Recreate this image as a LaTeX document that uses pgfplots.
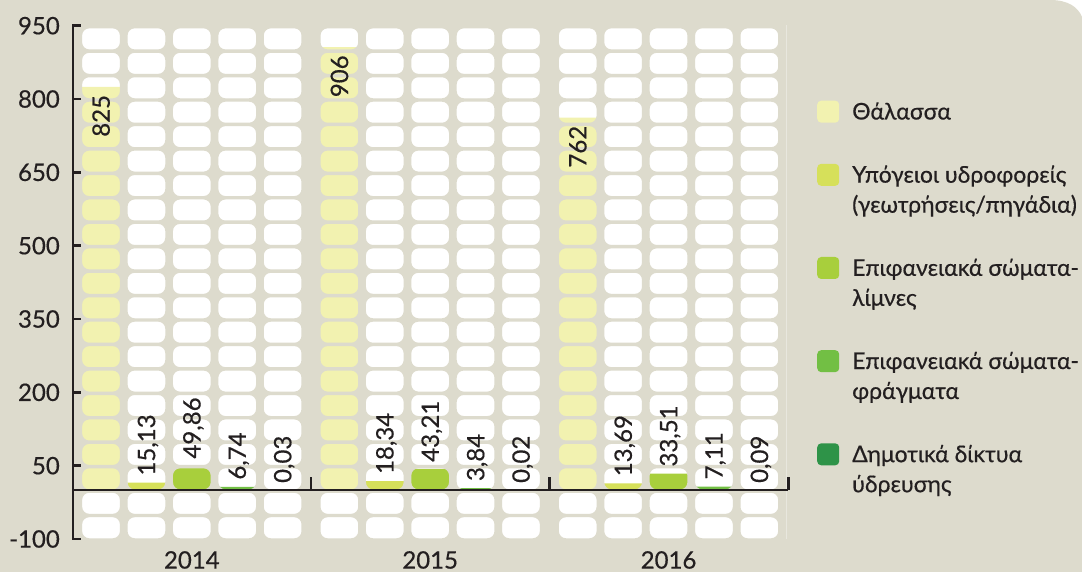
\documentclass[border=0pt]{standalone}
\usepackage{fontspec}
\setmainfont{Lato}[UprightFeatures={FakeBold=0.5}]
\usepackage{pgfplots}
\pgfplotsset{compat=1.18}
\usepackage{pgfplotstable}

\definecolor{bg}{RGB}{221,219,205}
\definecolor{ink}{RGB}{35,31,32}
\definecolor{seac}{RGB}{242,242,176}
\definecolor{groundc}{RGB}{214,224,90}
\definecolor{lakec}{RGB}{168,207,60}
\definecolor{damc}{RGB}{114,191,68}
\definecolor{cityc}{RGB}{46,147,72}
\newcommand{\lblfont}{\fontsize{24}{30}\selectfont}
\newcommand{\legfont}{\fontsize{23}{30}\selectfont}

% one small table per source: x position of the column, value, printed label
\pgfplotstableread{
x y lab
0 825 825
5.25 906 906
10.5 762 762
}\sea
\pgfplotstableread{
x y lab
1 15.13 15,13
6.25 18.34 18,34
11.5 13.69 13,69
}\ground
\pgfplotstableread{
x y lab
2 49.86 49,86
7.25 43.21 43,21
12.5 33.51 33,51
}\lakes
\pgfplotstableread{
x y lab
3 6.74 6,74
8.25 3.84 3,84
13.5 7.11 7,11
}\dams
\pgfplotstableread{
x y lab
4 0.03 0,03
9.25 0.02 0,02
14.5 0.09 0,09
}\city

\def\cols{0,1,2,3,4,5.25,6.25,7.25,8.25,9.25,10.5,11.5,12.5,13.5,14.5}

\pgfplotsset{
  % #1 colour, #2 lift of the legend square (two-line entries sit on their first line)
  pill/.style 2 args={ybar, bar width=0.9, bar shift=0pt, draw=none, fill=#1,
    legend image code/.code={
      \fill[opacity=0] (0pt,-#2-11pt) rectangle (1pt,-#2-10pt);
      \fill[#1, rounded corners=4pt] (0pt,#2-11pt) rectangle (22pt,#2+11pt);}},
  lbl/.style={forget plot, draw=none, mark=none, nodes near coords,
    point meta=explicit symbolic,
    nodes near coords style={rotate=90, font=\lblfont, text=ink, text depth=0pt, inner ysep=0pt}},
}

\begin{document}
\begin{tikzpicture}
\useasboundingbox (0pt,0pt) rectangle (1082pt,572pt);
\fill[bg] (0pt,0pt) -- (1082pt,0pt) -- (1082pt,555pt)
  .. controls (1078pt,565pt) and (1068pt,572pt) .. (1050pt,572pt) -- (0pt,572pt) -- cycle;
\begin{axis}[
  at={(73pt,33pt)}, anchor=south west, scale only axis,
  width=715.4pt, height=513.3pt,
  xmin=-0.617, xmax=15.14, ymin=-100, ymax=950,
  axis lines*=left, axis on top, clip=false,
  x axis line style={draw=none},
  y axis line style={line width=2.6pt, ink, line cap=rect},
  xtick={2,7.25,12.5}, xticklabels={2014,2015,2016},
  xtick style={draw=none},
  ytick={-100,50,200,350,500,650,800,950},
  yticklabels={-100,50,200,350,500,650,800,950},
  ytick style={line width=2.6pt, ink},
  tick align=inside, major tick length=8pt,
  tick label style={font=\lblfont, text=ink},
  yticklabel style={anchor=east, inner sep=0pt, xshift=-13pt},
  xticklabel style={anchor=north, inner sep=0pt, yshift=-12pt},
  legend style={at={(1.04,0.855)}, anchor=north west, draw=none, fill=none,
    font=\legfont, text=ink, row sep=40.5pt, inner sep=0pt,
    cells={anchor=west, align=left},
    /tikz/every odd column/.append style={column sep=11pt}},
]
% white under the pill grid
\fill[white] (axis cs:-0.55,-101) rectangle (axis cs:15.1,951);

\addplot[pill={seac}{0pt}] table[x=x, y=y] {\sea};
\addplot[pill={groundc}{15pt}] table[x=x, y=y] {\ground};
\addplot[pill={lakec}{15pt}] table[x=x, y=y] {\lakes};
\addplot[pill={damc}{15pt}] table[x=x, y=y] {\dams};
\addplot[pill={cityc}{15pt}] table[x=x, y=y] {\city};

% beige mask that leaves only the rounded pills open
\pgfplotsextra{
  \fill[bg, even odd rule] (axis cs:-0.55,-101) rectangle (axis cs:15.1,951)
    \foreach \cx [evaluate=\cx as \xl using \cx-0.415, evaluate=\cx as \xr using \cx+0.415] in \cols {
      \foreach \k [evaluate=\k as \yb using 50*\k+1.5, evaluate=\k as \yt using 50*\k+44.5] in {-2,...,18} {
        [rounded corners=7pt] (axis cs:\xl,\yb) rectangle (axis cs:\xr,\yt)
      }
    };
}

\addplot[lbl, nodes near coords style={anchor=east, inner xsep=8pt}] table[x=x, y=y, meta=lab] {\sea};
\addplot[lbl, nodes near coords style={anchor=west, inner xsep=7pt}] table[x=x, y=y, meta=lab] {\ground};
\addplot[lbl, nodes near coords style={anchor=west, inner xsep=7pt}] table[x=x, y=y, meta=lab] {\lakes};
\addplot[lbl, nodes near coords style={anchor=west, inner xsep=7pt}] table[x=x, y=y, meta=lab] {\dams};
\addplot[lbl, nodes near coords style={anchor=west, inner xsep=7pt}] table[x=x, y=y, meta=lab] {\city};

\draw[ink, line width=2.6pt] (axis cs:-0.617,0) -- (axis cs:15.14,0);
\draw[ink, line width=2.6pt] (axis cs:4.625,0) -- (axis cs:4.625,27);
\draw[ink, line width=2.6pt] (axis cs:9.875,0) -- (axis cs:9.875,27);
\draw[ink, line width=2.6pt] (axis cs:15.14,0) -- (axis cs:15.14,27);

\legend{Θάλασσα, {Υπόγειοι υδροφορείς\\(γεωτρήσεις/πηγάδια)}, {Επιφανειακά σώματα-\\λίμνες}, {Επιφανειακά σώματα-\\φράγματα}, {Δημοτικά δίκτυα\\ύδρευσης}}
\end{axis}
\end{tikzpicture}
\end{document}
